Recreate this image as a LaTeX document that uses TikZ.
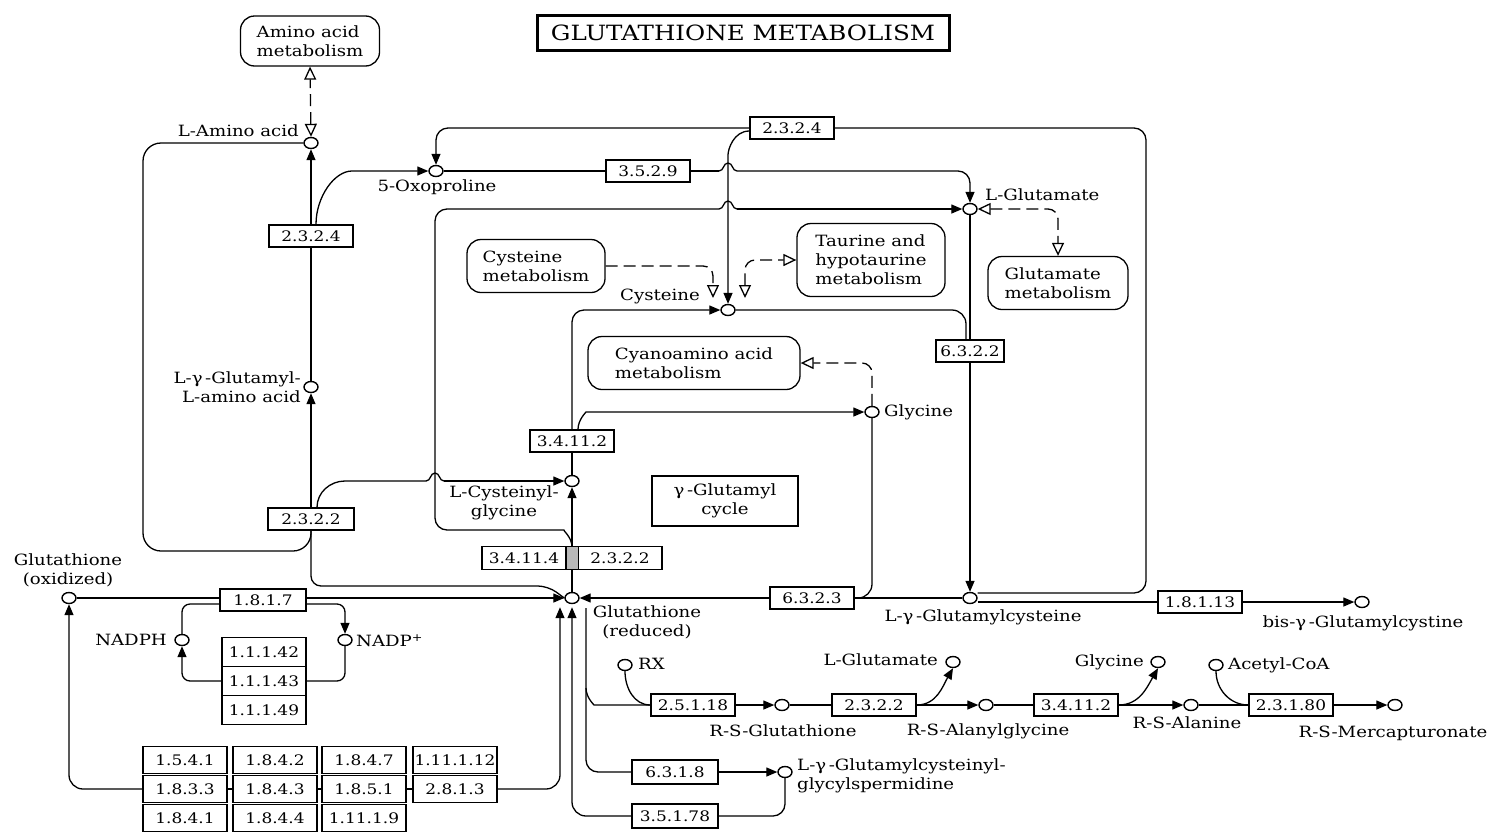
\documentclass[tikz,border=0pt]{standalone}
\usepackage{fontspec}
\setmainfont{DejaVu Serif}[FakeStretch=1.17]
\usetikzlibrary{shapes.geometric,arrows.meta,calc}
\newcommand{\lblfont}{\fontsize{15.5}{19}\selectfont}
\newcommand{\ecfont}{\fontsize{14.5}{16}\selectfont}
\pgfdeclarelayer{bg}
\pgfsetlayers{bg,main}
\begin{document}
\begin{tikzpicture}[x=1pt,y=-1pt,
  ec/.style={draw, line width=1.3pt, minimum width=84pt, minimum height=22pt, inner sep=0pt, fill=white, font=\ecfont},
  mapbox/.style={draw, line width=1.3pt, rounded corners=14pt, align=left, inner sep=0pt, fill=white, font=\lblfont},
  cpd/.style={ellipse, draw, line width=1.4pt, minimum width=14pt, minimum height=11pt, inner sep=0pt, fill=white},
  lbl/.style={inner sep=0pt, font=\lblfont},
  conn/.style={line width=1.3pt, rounded corners=10pt},
  plain/.style={line width=1.3pt},
  arr/.style={-{Triangle[length=11pt,width=9pt]}},
  oarr/.style={-{Triangle[open,length=13pt,width=12pt]}},
  boarr/.style={{Triangle[open,length=13pt,width=12pt]}-{Triangle[open,length=13pt,width=12pt]}},
  dsh/.style={dash pattern=on 12pt off 6pt},
]
\useasboundingbox (0,0) rectangle (1490,833);

% ---------- title and map boxes
\node[draw, line width=3pt, minimum width=412pt, minimum height=35pt, inner sep=0pt, font=\fontsize{21}{23}\selectfont] (title) at (743,33) {GLUTATHIONE METABOLISM};
\node[mapbox, minimum width=139pt, minimum height=50pt] (aam) at (310,41) {Amino acid\\metabolism};
\node[mapbox, minimum width=138pt, minimum height=53pt] (cysm) at (536,266) {Cysteine\\metabolism};
\node[mapbox, minimum width=148pt, minimum height=73pt] (taum) at (871,260) {Taurine and\\hypotaurine\\metabolism};
\node[mapbox, minimum width=140pt, minimum height=53pt] (glum) at (1058,283) {Glutamate\\metabolism};
\node[mapbox, minimum width=212pt, minimum height=53pt] (cyam) at (694,363) {Cyanoamino acid\\metabolism};
\node[draw, line width=1.3pt, minimum width=146pt, minimum height=50pt, inner sep=0pt, align=center, font=\lblfont] (gcyc) at (725,501) {γ\,-Glutamyl\\cycle};

% ---------- compounds
\node[cpd] (c_laa) at (311,143) {};
\node[cpd] (c_oxo) at (436,171) {};
\node[cpd] (c_glu) at (970,209) {};
\node[cpd] (c_cys) at (728,310) {};
\node[cpd] (c_gaa) at (311,387) {};
\node[cpd] (c_gly) at (872,412) {};
\node[cpd] (c_cg) at (572,481) {};
\node[cpd] (c_gsh) at (572,598) {};
\node[cpd] (c_gssg) at (69,598) {};
\node[cpd] (c_nadph) at (182,640) {};
\node[cpd] (c_nadp) at (345,640) {};
\node[cpd] (c_gc) at (970,598) {};
\node[cpd] (c_bis) at (1362,602) {};
\node[cpd] (c_rx) at (625,665) {};
\node[cpd] (c_rsg) at (782,705) {};
\node[cpd] (c_glu2) at (953,662) {};
\node[cpd] (c_rsag) at (986,705) {};
\node[cpd] (c_gly2) at (1158,662) {};
\node[cpd] (c_rsa) at (1191,705) {};
\node[cpd] (c_acoa) at (1216,665) {};
\node[cpd] (c_rsm) at (1395,705) {};
\node[cpd] (c_sper) at (785,772) {};

% ---------- compound labels
\node[lbl, anchor=east] (l_laa) at (299,131) {L-Amino acid};
\node[lbl] (l_oxo) at (437,187) {5-Oxoproline};
\node[lbl, anchor=west] (l_glu) at (985,195) {L-Glutamate};
\node[lbl, anchor=east] (l_cys) at (700,296) {Cysteine};
\node[lbl, anchor=east, align=right] (l_gaa) at (301,387) {L-γ\,-Glutamyl-\\L-amino acid};
\node[lbl, anchor=west] (l_gly) at (884,412) {Glycine};
\node[lbl, align=center] (l_cg) at (504,503) {L-Cysteinyl-\\glycine};
\node[lbl, align=center] (l_gsh) at (647,622) {Glutathione\\(reduced)};
\node[lbl, align=center] (l_gssg) at (68,570) {Glutathione\\(oxidized)};
\node[lbl, anchor=east] (l_nadph) at (167,640) {NADPH};
\node[lbl, anchor=west] (l_nadp) at (356,641) {NADP\textsuperscript{+}};
\node[lbl] (l_gc) at (983,617) {L-γ\,-Glutamylcysteine};
\node[lbl] (l_bis) at (1363,623) {bis-γ\,-Glutamylcystine};
\node[lbl, anchor=west] (l_rx) at (638,664) {RX};
\node[lbl] (l_rsg) at (783,731) {R-S-Glutathione};
\node[lbl, anchor=east] (l_glu2) at (938,660) {L-Glutamate};
\node[lbl] (l_rsag) at (988,731) {R-S-Alanylglycine};
\node[lbl, anchor=east] (l_gly2) at (1144,662) {Glycine};
\node[lbl] (l_rsa) at (1187,723) {R-S-Alanine};
\node[lbl, anchor=west] (l_acoa) at (1228,665) {Acetyl-CoA};
\node[lbl] (l_rsm) at (1393,733) {R-S-Mercapturonate};
\node[lbl, anchor=west, align=left] (l_sper) at (797,776) {L-γ\,-Glutamylcysteinyl-\\glycylspermidine};

% ---------- enzymes
\node[ec] (e2324a) at (792,128) {2.3.2.4};
\node[ec] (e3529) at (648,171) {3.5.2.9};
\node[ec] (e2324b) at (311,236) {2.3.2.4};
\node[ec, minimum width=68pt] (e6322) at (970,351) {6.3.2.2};
\node[ec] (e34112a) at (572,441) {3.4.11.2};
\node[ec, minimum width=86pt] (e2322a) at (311,519) {2.3.2.2};
\node[ec, minimum height=23pt] (e34114) at (524,558) {3.4.11.4};
\node[ec, minimum height=23pt] (e2322b) at (620,558) {2.3.2.2};
\node[draw, line width=1pt, fill=gray!55, minimum width=12pt, minimum height=23pt, inner sep=0pt] (bar) at (572,558) {};
\node[ec] (e6323) at (812,598) {6.3.2.3};
\node[ec, minimum width=86pt] (e1817) at (263,600) {1.8.1.7};
\node[ec, minimum height=29pt] (e11142) at (264,652) {1.1.1.42};
\node[ec, minimum height=29pt] (e11143) at (264,681) {1.1.1.43};
\node[ec, minimum height=29pt] (e11149) at (264,710) {1.1.1.49};
\node[ec, minimum height=27pt] (g11) at (185,760) {1.5.4.1};
\node[ec, minimum height=27pt] (g12) at (275,760) {1.8.4.2};
\node[ec, minimum height=27pt] (g13) at (364,760) {1.8.4.7};
\node[ec, minimum height=27pt] (g14) at (455,760) {1.11.1.12};
\node[ec, minimum height=27pt] (g21) at (185,789) {1.8.3.3};
\node[ec, minimum height=27pt] (g22) at (275,789) {1.8.4.3};
\node[ec, minimum height=27pt] (g23) at (364,789) {1.8.5.1};
\node[ec, minimum height=27pt] (g24) at (455,789) {2.8.1.3};
\node[ec, minimum height=27pt] (g31) at (185,818) {1.8.4.1};
\node[ec, minimum height=27pt] (g32) at (275,818) {1.8.4.4};
\node[ec, minimum height=27pt] (g33) at (364,818) {1.11.1.9};
\node[ec] (e18113) at (1200,602) {1.8.1.13};
\node[ec] (e25118) at (693,705) {2.5.1.18};
\node[ec] (e2322c) at (874,705) {2.3.2.2};
\node[ec] (e34112b) at (1076,705) {3.4.11.2};
\node[ec] (e23180) at (1291,705) {2.3.1.80};
\node[ec, minimum width=86pt, minimum height=24pt] (e6318) at (675,772) {6.3.1.8};
\node[ec, minimum width=86pt, minimum height=24pt] (e35178) at (675,816) {3.5.1.78};

% ---------- helper coordinates
\coordinate (bartop) at (572,547);
\coordinate (barbot) at (572,570);
\coordinate (cysL) at (713,298);
\coordinate (cysR) at (745,298);
\coordinate (gshr) at (586,608);
\coordinate (gshb) at (586,688);
\coordinate (k1) at (728,165);
% bump coordinates
\coordinate (b1a) at (719,171); \coordinate (b1b) at (737,171);
\coordinate (b2a) at (719,209); \coordinate (b2b) at (737,209);
\coordinate (b3a) at (426,481); \coordinate (b3b) at (444,481);

\begin{pgfonlayer}{bg}
\fill[white] (0,0) rectangle (1490,833);
% amino acid metabolism
\draw[conn, dsh, boarr] (c_laa.north) -- (aam.south);
\draw[conn, arr] (e2324b.north) -- (c_laa.south);
\draw[conn, arr] ($(e2324b.north)+(5,0)$) to[out=90,in=180] (362,171) -- (c_oxo.west);
\draw[conn] (c_gaa.north) -- (e2324b.south);
\draw[conn, arr] (e2322a.north) -- (c_gaa.south);
\draw[conn, rounded corners=18pt] (c_laa.west) -| (143,551) -| (e2322a.south);
\draw[plain] ($(e2322a.north)+(6,0)$) to[out=90,in=180] (345,481) -- (b3a);
\draw[plain] (b3a) .. controls (431,481) and (430,473) .. (435,473) .. controls (440,473) and (439,481) .. (b3b);
\draw[plain, arr] (b3b) -- (c_cg.west);
\draw[conn] (e2322a.south) |- (548,586) -- (c_gsh.west);
% GSSG / GSH
\draw[conn] (c_gssg.east) -- (e1817.west |- c_gssg.east);
\draw[conn, arr] (e1817.east |- c_gssg.east) -- (c_gsh.west);
\draw[conn, rounded corners=8pt] (c_nadph.north) |- ($(e1817.west)+(0,4)$);
\draw[conn, arr, rounded corners=8pt] ($(e1817.east)+(0,4)$) -| (c_nadp.north);
\draw[conn, rounded corners=8pt] (c_nadp.south) |- (e11143.east);
\draw[conn, arr, rounded corners=8pt] (e11143.west) -| (c_nadph.south);
\draw[conn, arr, rounded corners=14pt] (g21.west) -| (c_gssg.south);
\draw[conn] (g21.east) -- (g22.west);
\draw[conn] (g22.east) -- (g23.west);
\draw[conn] (g23.east) -- (g24.west);
\draw[conn, arr, rounded corners=14pt] (g24.east) -| ($(c_gsh.south)+(-12,3)$);
\draw[conn, arr, rounded corners=14pt] (e35178.west) -| ($(c_gsh.south)+(0,3)$);
\draw[conn, rounded corners=12pt] (gshr) |- (e6318.west);
\draw[conn] (gshb) to[out=270,in=180] (604,705) -- (e25118.west);
% mercapturic pathway
\draw[conn] (c_rx.south) to[out=270,in=180] (e25118.west);
\draw[conn, arr] (e25118.east) -- (c_rsg.west);
\draw[conn] (c_rsg.east) -- (e2322c.west);
\draw[conn, arr] (e2322c.east) -- (c_rsag.west);
\draw[conn, arr] (e2322c.east) to[out=0,in=240] (c_glu2.south);
\draw[conn] (c_rsag.east) -- (e34112b.west);
\draw[conn, arr] (e34112b.east) -- (c_rsa.west);
\draw[conn, arr] (e34112b.east) to[out=0,in=240] (c_gly2.south);
\draw[conn] (c_rsa.east) -- (e23180.west);
\draw[conn] (c_acoa.south) to[out=270,in=180] (e23180.west);
\draw[conn, arr] (e23180.east) -- (c_rsm.west);
% spermidine
\draw[conn, arr] (e6318.east) -- (c_sper.west);
\draw[conn, rounded corners=12pt] (c_sper.south) |- (e35178.east);
% gamma-glutamylcysteine
\draw[conn] (c_gc.west) -- (e6323.east);
\draw[conn, arr] (e6323.west) -- (c_gsh.east);
\draw[conn, rounded corners=14pt] (c_gly.south) |- (e6323.east);
\draw[conn] (c_gc.east |- e18113.west) -- (e18113.west);
\draw[conn, arr] (e18113.east) -- (c_bis.west);
% 2.3.2.4 top
\draw[conn, rounded corners=12pt] (e2324a.east) -| (1146,593) -- ($(c_gc.east)+(0,-5)$);
\draw[conn, arr, rounded corners=12pt] (e2324a.west) -| (c_oxo.north);
\draw[conn, arr] ($(e2324a.west)+(0,3)$) to[out=180,in=90] (k1) -- (c_cys.north);
% 5-oxoproline -> glutamate
\draw[conn] (c_oxo.east) -- (e3529.west);
\draw[plain] (e3529.east) -- (b1a);
\draw[plain] (b1a) .. controls (724,171) and (723,163) .. (728,163) .. controls (733,163) and (732,171) .. (b1b);
\draw[conn, arr, rounded corners=12pt] (b1b) -| (c_glu.north);
% glutamate from 2.3.2.2
\draw[conn, rounded corners=12pt] (bartop) to[out=90,in=0] (552,530) -| (435,209) -- (b2a);
\draw[plain] (b2a) .. controls (724,209) and (723,201) .. (728,201) .. controls (733,201) and (732,209) .. (b2b);
\draw[plain, arr] (b2b) -- (c_glu.west);
% cysteinylglycine
\draw[conn, arr] (bartop) -- (c_cg.south);
\draw[conn] (c_gsh.north) -- (barbot);
\draw[conn] (c_cg.north) -- (e34112a.south);
\draw[conn, arr, rounded corners=12pt] (e34112a.north) |- (c_cys.west);
\draw[conn, arr] ($(e34112a.north)+(6,0)$) to[out=90,in=180] (596,412) -- (c_gly.west);
% cysteine / glutamate -> 6.3.2.2
\draw[conn, rounded corners=14pt] (c_cys.east) -| ($(e6322.north)+(-4,0)$);
\draw[conn] (c_glu.south) -- (e6322.north);
\draw[conn, arr] (e6322.south) -- (c_gc.north);
% dashed map links
\draw[conn, dsh, oarr] (cysm.east) -| (cysL);
\draw[conn, dsh, boarr] (cysR) |- (taum.west);
\draw[conn, dsh, oarr] (c_gly.north) |- (cyam.east);
\draw[conn, dsh, boarr] (c_glu.east) -| (glum.north);
\end{pgfonlayer}
\end{tikzpicture}
\end{document}
